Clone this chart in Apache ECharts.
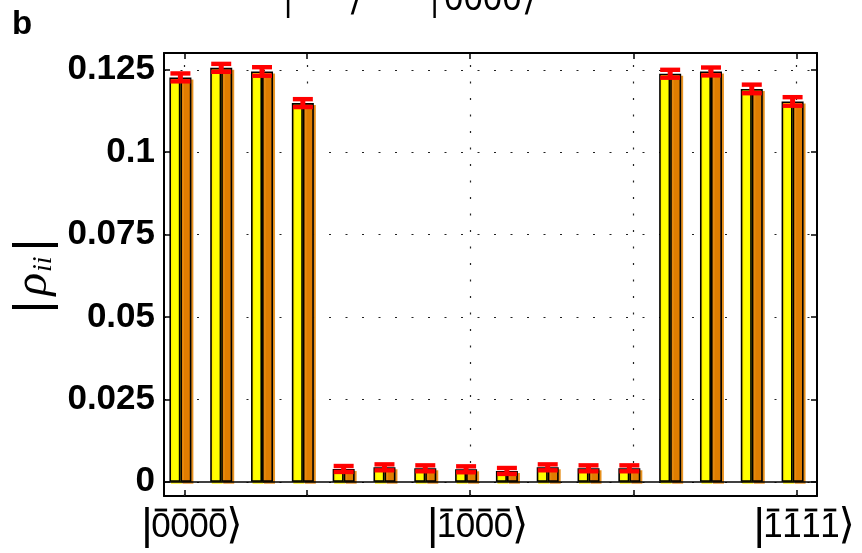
<!DOCTYPE html>
<html><head><meta charset="utf-8">
<script src="https://cdn.jsdelivr.net/npm/echarts@6/dist/echarts.min.js"></script>
<style>html,body{margin:0;padding:0;background:#fff}#c{width:862px;height:553px}</style>
</head><body><div id="c"></div>
<script>
// ---- data ----
const categories = ['0000','0001','0010','0011','0100','0101','0110','0111',
                    '1000','1001','1010','1011','1100','1101','1110','1111'];
const yellowValues = [0.1227,0.1256,0.1245,0.1149,0.0039,0.0044,0.0041,0.0038,
                      0.0033,0.0044,0.0041,0.0041,0.1238,0.1245,0.1192,0.1154];
const orangeValues = [0.1227,0.1256,0.1245,0.1149,0.0039,0.0044,0.0041,0.0038,
                      0.0033,0.0044,0.0041,0.0041,0.1238,0.1245,0.1192,0.1154];
const errorValues  = [0.0012,0.0012,0.0013,0.0012,0.0009,0.0009,0.0009,0.0009,
                      0.0009,0.0009,0.0009,0.0009,0.0012,0.0012,0.0013,0.0013];
const yTickValues = [0, 0.025, 0.05, 0.075, 0.1, 0.125];
const yTickLabels = ['0', '0.025', '0.05', '0.075', '0.1', '0.125'];
const xTickIndices = [0, 3, 7, 11, 15];
const xLabelIndices = [0, 7, 15];
const xLabelTexts = ['0000', '1000', '1111'];

// ---- style ----
const YELLOW = '#FFFF00', ORANGE = '#E07D00', RED = '#FF0000';
const GROUP_SHIFT = -4;

// ket label with an overbar on every digit: two rich-text lines
function ketLabel(s) {
  const chars = s.split('');
  const bars = '{p| }{pb| }' + chars.map(() => '{g| }{o| }{g| }').join('') + '{pa| }';
  const text = '{p| }{b||}' + chars.map(c => '{d|' + c + '}').join('') + '{a|\u27E9}';
  return bars + '\n' + text;
}
const ketRich = {
  p:  {width: 15, lineHeight: 8, fontSize: 8},
  pb: {width: 9, lineHeight: 8, fontSize: 8},
  g:  {width: 3.3, lineHeight: 8, fontSize: 8},
  o:  {width: 12.4, height: 2.8, lineHeight: 8, fontSize: 8, backgroundColor: '#000'},
  pa: {width: 14, lineHeight: 8, fontSize: 8},
  b:  {width: 9, fontSize: 44, fontFamily: 'Liberation Sans', color: '#000', lineHeight: 26},
  d:  {width: 19, fontSize: 35, fontFamily: 'Liberation Sans', color: '#000', lineHeight: 26},
  a:  {width: 14, fontSize: 42, fontFamily: 'DejaVu Sans', color: '#000', lineHeight: 26}
};

const chart = echarts.init(document.getElementById('c'), null, {renderer: 'canvas'});
const tickStyle = {color: '#000', width: 1.5};
const axisLineStyle = {color: '#000', width: 2};
const dotted = {color: '#222', width: 1.2, type: [2, 14.5]};

const option = {
  animation: false,
  backgroundColor: '#fff',
  grid: {left: 164, right: 45, top: 53, bottom: 57, containLabel: false},
  xAxis: [{
    type: 'category', data: categories, position: 'bottom', boundaryGap: true,
    axisLine: {show: true, onZero: false, lineStyle: axisLineStyle},
    axisTick: {show: true, inside: true, length: 6, alignWithLabel: true,
               interval: i => xTickIndices.includes(i), lineStyle: tickStyle},
    axisLabel: {
      show: true, margin: 10, interval: i => xLabelIndices.includes(i),
      formatter: (v, i) => {
        const k = xLabelIndices.indexOf(i);
        return k < 0 ? '' : ketLabel(xLabelTexts[k]);
      },
      rich: ketRich
    },
    splitLine: {show: false}
  }, {
    type: 'category', data: categories, position: 'top', boundaryGap: true,
    axisLine: {show: true, onZero: false, lineStyle: axisLineStyle},
    axisTick: {show: true, inside: true, length: 6, alignWithLabel: true,
               interval: i => xTickIndices.includes(i), lineStyle: tickStyle},
    axisLabel: {show: false}, splitLine: {show: false}
  }],
  yAxis: [{
    type: 'value', position: 'left', min: -0.0043, max: 0.1301,
    axisLine: {show: true, onZero: false, lineStyle: axisLineStyle},
    axisTick: {show: true, inside: true, length: 6, customValues: yTickValues, lineStyle: tickStyle},
    axisLabel: {show: true, customValues: yTickValues, margin: 9,
      formatter: v => { const k = yTickValues.findIndex(t => Math.abs(t - v) < 1e-9); return k < 0 ? '' : yTickLabels[k]; },
      fontSize: 35, fontWeight: 'bold', fontFamily: 'Liberation Sans', color: '#000'},
    splitLine: {show: true, lineStyle: dotted}
  }, {
    type: 'value', position: 'right', min: -0.0043, max: 0.1301,
    axisLine: {show: true, onZero: false, lineStyle: axisLineStyle},
    axisTick: {show: true, inside: true, length: 6, customValues: yTickValues, lineStyle: tickStyle},
    axisLabel: {show: false}, splitLine: {show: false}
  }],
  series: [{
    name: 'yellow', type: 'bar', data: yellowValues, barWidth: 11, barGap: '0%', z: 2,
    itemStyle: {color: YELLOW, borderColor: '#000', borderWidth: 1.6,
                shadowColor: 'rgba(255,240,0,0.9)', shadowOffsetX: 1.5, shadowOffsetY: 2, shadowBlur: 0}
  }, {
    name: 'orange', type: 'bar', data: orangeValues, barWidth: 11, barGap: '0%', z: 2,
    itemStyle: {color: ORANGE, borderColor: '#000', borderWidth: 1.6,
                shadowColor: 'rgba(230,140,20,0.9)', shadowOffsetX: 2, shadowOffsetY: 2, shadowBlur: 0}
  }, {
    name: 'spacer', type: 'bar', data: categories.map(() => 0), barWidth: 8, barGap: '0%', z: 1,
    itemStyle: {opacity: 0, borderWidth: 0}
  }, {
    name: 'guides', type: 'line', data: [], z: 1,
    markLine: {
      silent: true, symbol: 'none', z: 1, animation: false, label: {show: false},
      lineStyle: dotted,
      data: xTickIndices.map(i => ({xAxis: categories[i]}))
    }
  }, {
    name: 'zero', type: 'line', data: [], z: 3,
    markLine: {
      silent: true, symbol: 'none', z: 3, animation: false, label: {show: false},
      lineStyle: {color: '#000', width: 1.5, type: 'solid'},
      data: [{yAxis: 0}]
    }
  }, {
    name: 'error', type: 'custom', z: 4,
    data: categories.map((c, i) => [i, orangeValues[i], errorValues[i]]),
    renderItem: (params, api) => {
      const i = api.value(0), v = api.value(1), e = api.value(2);
      const x = api.coord([i, v])[0] + GROUP_SHIFT;
      const yT = api.coord([i, v + e])[1], yB = api.coord([i, v - e])[1];
      const st = {fill: RED};
      return {type: 'group', children: [
        {type: 'rect', shape: {x: x - 2.5, y: yT, width: 5, height: yB - yT}, style: st},
        {type: 'rect', shape: {x: x - 10, y: yT - 2.2, width: 20, height: 4.4}, style: st},
        {type: 'rect', shape: {x: x - 10, y: yB - 2.2, width: 20, height: 4.4}, style: st}
      ]};
    }
  }],
  graphic: [
    {type: 'text', left: 12, top: 8, style: {text: 'b', font: 'bold 33px "Liberation Sans"', fill: '#000'}},
    {type: 'text', x: 34, y: 276, rotation: Math.PI / 2,
     style: {text: '{b||}{r|ρ}{s|ii}{b||}', align: 'center', verticalAlign: 'middle',
       rich: {
         b: {fontSize: 50, fontFamily: 'Liberation Sans', fill: '#000', padding: [0, 2, 0, 2]},
         r: {fontSize: 47, fontFamily: 'Liberation Serif', fontStyle: 'italic', fill: '#000', padding: [0, 1, 0, 3]},
         s: {fontSize: 28, fontFamily: 'Liberation Serif', fontStyle: 'italic', fill: '#000', padding: [20, 3, 0, 0]}
       }}},
    {type: 'text', x: 480, y: 17, style: {text: '|0000\u27E9', font: '34px "Noto Sans"', fill: '#000',
       align: 'center', verticalAlign: 'bottom'}},
    {type: 'text', x: 320, y: 17, style: {text: '|\u2003\u2002\u27E9', font: '34px "Noto Sans"', fill: '#000',
       align: 'center', verticalAlign: 'bottom'}}
  ]
};
chart.setOption(option);
</script></body></html>
